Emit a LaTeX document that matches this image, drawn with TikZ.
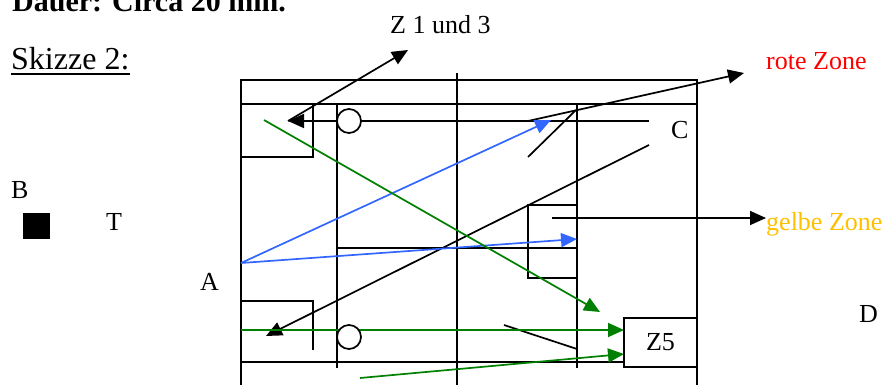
\documentclass[tikz,border=0pt]{standalone}
\usepackage{fontspec}
\setmainfont{Liberation Serif}
\usetikzlibrary{arrows.meta}
\definecolor{zblue}{RGB}{51,102,255}
\definecolor{zgreen}{RGB}{0,128,0}
\definecolor{zred}{RGB}{255,0,0}
\definecolor{zyellow}{RGB}{255,192,0}
\tikzset{
  ln/.style={line width=1.7pt, line cap=butt},
  arr/.style={ln, -{Triangle[length=16pt,width=14pt]}},
  lbl/.style={anchor=base west, inner sep=0pt, font=\fontsize{26}{30}\selectfont},
  ring/.style={circle, draw, line width=1.7pt, fill=white, minimum size=24pt, inner sep=0pt},
}
\begin{document}
\begin{tikzpicture}[x=1pt,y=-1pt]
\clip (0,0) rectangle (885,385);
\useasboundingbox (0,0) rectangle (885,385);
% texts
\node[lbl, font=\fontsize{30}{34}\selectfont\bfseries] (title) at (12,12) {Dauer: Circa 20 min.};
\node[lbl, font=\fontsize{32}{36}\selectfont] (sk) at (11,70) {Skizze 2:};
\draw[line width=1.7pt] ([yshift=-4pt]sk.base west) -- ([yshift=-4pt]sk.base east);
\node[lbl] (z13) at (390,34) {Z 1 und 3};
\node[lbl, text=zred] (rot) at (766,70) {rote Zone};
\node[lbl, text=zyellow] (gelb) at (766,230) {gelbe Zone};
\node[lbl] (B) at (11,198) {B};
\node[lbl] (T) at (106,230) {T};
\node[lbl] (A) at (200,290) {A};
\node[lbl] (C) at (671,138) {C};
\node[lbl] (D) at (859,322) {D};
\node[fill=black, inner sep=0pt, minimum width=27pt, minimum height=26pt] (sq) at (36.5,226) {};
% frame
\draw[ln] (241,385) -- (241,80) -- (697,80) -- (697,385);
\draw[ln] (241,104) -- (697,104);
\draw[ln] (457,73) -- (457,385);
\draw[ln] (337,104) -- (337,368);
\draw[ln] (577,104) -- (577,368);
\draw[ln] (241,157) -- (313,157) -- (313,104);
\draw[ln] (241,301) -- (313,301) -- (313,350);
\draw[ln] (577,205) -- (528,205) -- (528,278) -- (577,278);
\draw[ln] (337,248) -- (577,248);
\draw[ln] (241,362) -- (624,362);
\draw[ln] (528,157) -- (576,110);
\draw[ln] (504,325) -- (577,349);
% coordinates
\coordinate (hl) at (649,121);
\coordinate (tl) at (288,121);
\coordinate (ztip) at (408,50);
\coordinate (rs) at (528,121);
\coordinate (rt) at (744,73);
\coordinate (ls) at (649,145);
\coordinate (lt) at (266,336);
\coordinate (gs) at (552,218);
\coordinate (gt) at (766,218);
\coordinate (pa) at (241,263);
\coordinate (b1) at (551,120);
\coordinate (b2) at (577,239);
\coordinate (g1s) at (264,120);
\coordinate (g1t) at (600,312);
\coordinate (g2s) at (241,330);
\coordinate (g2t) at (624,330);
\coordinate (g3s) at (360,378);
\coordinate (g3t) at (624,354);
% black arrows
\draw[arr] (hl) -- (tl);
\draw[arr] (tl) -- (ztip);
\draw[arr] (rs) -- (rt);
\draw[arr] (ls) -- (lt);
\draw[arr] (gs) -- (gt);
% blue arrows
\draw[arr, zblue] (pa) -- (b1);
\draw[arr, zblue] (pa) -- (b2);
% green arrows
\draw[arr, zgreen] (g1s) -- (g1t);
\draw[arr, zgreen] (g2s) -- (g2t);
\draw[arr, zgreen] (g3s) -- (g3t);
% circles
\node[ring] (c1) at (349,121) {};
\node[ring] (c2) at (349,337) {};
% Z5 box
\node[draw, line width=1.7pt, fill=white, minimum width=73pt, minimum height=49pt, inner sep=0pt, font=\fontsize{26}{30}\selectfont] (z5) at (660.5,342.5) {Z5};
\end{tikzpicture}
\end{document}
